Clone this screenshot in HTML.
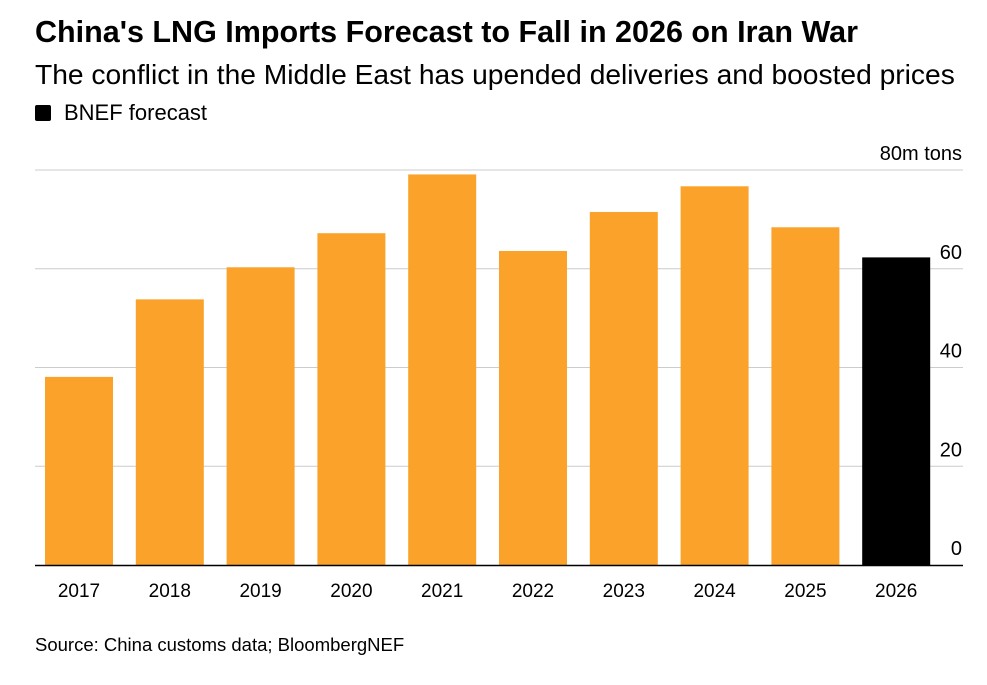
<!DOCTYPE html>
<html><head><meta charset="utf-8"><style>
body{margin:0;background:#fff;width:987px;height:685px;overflow:hidden;font-family:"Liberation Sans",Arial,sans-serif;color:#000}
#title{position:absolute;left:35px;top:15px;font-size:30.5px;font-weight:bold;letter-spacing:0px;white-space:nowrap}
#sub{position:absolute;left:35px;top:58px;font-size:28.2px;white-space:nowrap}
#legend{position:absolute;left:35px;top:100px;font-size:22px;display:flex;align-items:center}
#legend span.sw{display:inline-block;width:16px;height:16px;background:#000;border-radius:2px;margin-right:13px}
#source{position:absolute;left:35px;top:634px;font-size:18.5px}
svg{position:absolute;left:0;top:0}
</style></head><body>
<div id="title">China's LNG Imports Forecast to Fall in 2026 on Iran War</div>
<div id="sub">The conflict in the Middle East has upended deliveries and boosted prices</div>
<div id="legend"><span class="sw"></span>BNEF forecast</div>
<svg id="chart" width="987" height="685"></svg>
<div id="source">Source: China customs data; BloombergNEF</div>
<script>
const categories=["2017","2018","2019","2020","2021","2022","2023","2024","2025","2026"];
const values=[38.1,53.8,60.3,67.2,79.1,63.6,71.5,76.7,68.4,62.3];
const forecast=[false,false,false,false,false,false,false,false,false,true];
const ticks=[0,20,40,60,80];
const tickLabels=["0","20","40","60","80m tons"];
const svg=document.getElementById('chart');
const NS="http://www.w3.org/2000/svg";
const y0=565,yTop=170,yMax=80;
const y=v=>y0-(v/yMax)*(y0-yTop);
const x0=45,step=90.8,bw=68;
const x=i=>x0+i*step;
function mk(t,a){const e=document.createElementNS(NS,t);for(const k in a)e.setAttribute(k,a[k]);svg.appendChild(e);return e;}
ticks.forEach((t,i)=>{
  if(t>0){const l=mk('line',{x1:35,x2:963,y1:y(t),y2:y(t),stroke:'#ccc','stroke-width':1});
  
  }
  const tx=mk('text',{x:962,y:y(t)-10,'text-anchor':'end','font-size':20,'font-family':'Liberation Sans, Arial, sans-serif',fill:'#000'});
  tx.textContent=tickLabels[i];
  
  
});
values.forEach((v,i)=>{
  const r=mk('rect',{x:x(i),y:y(v),width:bw,height:y0-y(v),fill:forecast[i]?'#000':'#fba22b'});
  
  
  const t=mk('text',{x:x(i)+bw/2,y:597,'text-anchor':'middle','font-size':19,'font-family':'Liberation Sans, Arial, sans-serif',fill:'#000'});
  t.textContent=categories[i];
  
  
});
const ax=mk('line',{x1:35,x2:963,y1:y0+0.5,y2:y0+0.5,stroke:'#000','stroke-width':1.5});


</script>
</body></html>
